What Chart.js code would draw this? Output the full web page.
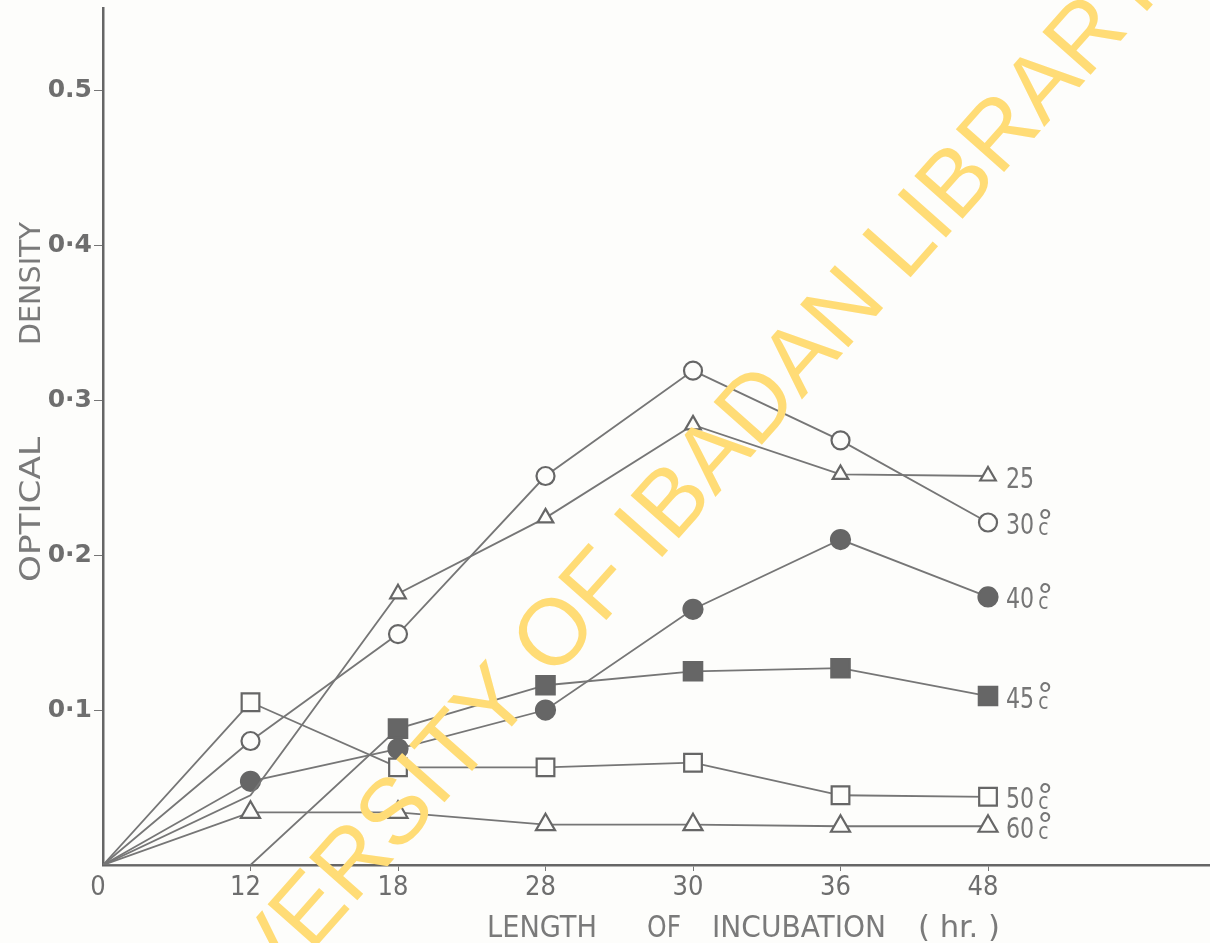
<!DOCTYPE html>
<html>
<head>
<meta charset="utf-8">
<script src="https://cdn.jsdelivr.net/npm/chart.js@4.4.1/dist/chart.umd.min.js"></script>
<style>
  html, body { margin: 0; padding: 0; background: #fdfdfb; }
  canvas { display: block; }
</style>
</head>
<body>
<canvas id="odChart" width="1210" height="943"></canvas>
<script>
// incubation times (hr), spaced evenly along the axis as on the sheet
const hours = ['0', '12', '18', '28', '30', '36', '48'];
const yTickLabels = ['', '0·1', '0·2', '0·3', '0·4', '0.5'];

// optical density per temperature
const od25 = [0, 0.045, 0.175, 0.224, 0.284, 0.252, 0.251];
const od30 = [0, 0.080, 0.149, 0.251, 0.319, 0.274, 0.221];
const od40 = [0, 0.054, 0.075, 0.100, 0.165, 0.210, 0.173];
const od45 = [0, 0, 0.088, 0.116, 0.125, 0.127, 0.109];
const od50 = [0, 0.105, 0.063, 0.063, 0.066, 0.045, 0.044];
const od60 = [0, 0.034, 0.034, 0.026, 0.026, 0.025, 0.025];

const seriesNames = ['25', '30°c', '40°c', '45°c', '50°c', '60°c'];

const INK = '#767676';
const DARK = '#666666';
const PAPER = '#fdfdfb';
const NARROW = '"Liberation Sans Narrow", "DejaVu Sans Condensed", "DejaVu Sans", sans-serif';
const STAMP = 'UNIVERSITY OF IBADAN LIBRARY';

function pts(values) {
  return values.map((v, i) => ({ x: i, y: v }));
}

// no marker at the origin (and where a curve just leaves the axis)
function radii(r, hidden) {
  return hours.map((_, i) => (hidden.includes(i) ? 0 : r));
}

function series(name, values, style, r, filled, hidden) {
  return {
    label: name,
    data: pts(values),
    borderColor: INK,
    borderWidth: 1.8,
    pointStyle: style,
    pointRadius: radii(r, hidden),
    pointBorderWidth: 2.2,
    pointBorderColor: DARK,
    pointBackgroundColor: filled ? DARK : PAPER,
    tension: 0
  };
}

const datasets = [
  series(seriesNames[0], od25, 'triangle', 9, false, [0, 1]),
  series(seriesNames[1], od30, 'circle', 9, false, [0]),
  series(seriesNames[2], od40, 'circle', 9.5, true, [0]),
  series(seriesNames[3], od45, 'rect', 13, true, [0, 1]),
  series(seriesNames[4], od50, 'rect', 12.5, false, [0]),
  series(seriesNames[5], od60, 'triangle', 11, false, [0])
];

// draw text with its inked box centred vertically on cy
function textAt(ctx, text, x, cy, sx) {
  const m = ctx.measureText(text);
  const base = cy + (m.actualBoundingBoxAscent - m.actualBoundingBoxDescent) / 2;
  ctx.save();
  ctx.translate(x, base);
  ctx.scale(sx || 1, 1);
  ctx.fillText(text, 0, 0);
  ctx.restore();
  return m.width * (sx || 1);
}

// "40°c" style labels at the right-hand end of each curve
const endLabels = {
  id: 'endLabels',
  afterDatasetsDraw(chart) {
    const ctx = chart.ctx;
    ctx.save();
    ctx.fillStyle = INK;
    ctx.textAlign = 'left';
    ctx.textBaseline = 'alphabetic';
    chart.data.datasets.forEach((ds, i) => {
      const meta = chart.getDatasetMeta(i);
      const last = meta.data[meta.data.length - 1];
      const m = ds.label.match(/^(\d+)(.*)$/);
      let x = last.x + 18;
      const y = last.y + 1;
      ctx.font = '29px ' + NARROW;
      x += textAt(ctx, m[1], x, y, 0.85) + 3;
      if (m[2]) {
        ctx.font = '32px "DejaVu Sans", sans-serif';
        textAt(ctx, m[2][0], x, y - 10, 1);
        ctx.font = '23px ' + NARROW;
        textAt(ctx, m[2].slice(1), x + 1, y + 5, 0.9);
      }
    });
    ctx.restore();
  }
};

// fit a word between two x positions
function fitWord(ctx, text, x0, x1, y) {
  const w = ctx.measureText(text).width;
  ctx.save();
  ctx.translate(x0, y);
  ctx.scale((x1 - x0) / w, 1);
  ctx.fillText(text, 0, 0);
  ctx.restore();
}

// library stamp: laid out so that the 'S' of UNIVERSITY and the last 'R'
// of LIBRARY land on the two given centres
function drawStamp(ctx, from, to) {
  ctx.save();
  ctx.font = '100px "Liberation Sans", Arial, sans-serif';
  const w = s => ctx.measureText(s).width;
  const sMid = w('UNIVER') + w('S') / 2;
  const rMid = w('UNIVERSITY OF IBADAN LIBRA') + w('R') / 2;
  const dx = to[0] - from[0], dy = to[1] - from[1];
  const k = Math.hypot(dx, dy) / (rMid - sMid);
  const capH = ctx.measureText('S').actualBoundingBoxAscent;
  ctx.translate(from[0], from[1]);
  ctx.rotate(Math.atan2(dy, dx));
  ctx.scale(k, k);
  ctx.fillStyle = '#ffdc76';
  ctx.textAlign = 'left';
  ctx.textBaseline = 'alphabetic';
  ctx.fillText(STAMP, -sMid, capH / 2);
  ctx.restore();
}

const titlesAndStamp = {
  id: 'titlesAndStamp',
  afterDraw(chart) {
    const ctx = chart.ctx;
    ctx.save();
    ctx.fillStyle = '#7a7a7a';
    ctx.textAlign = 'left';
    ctx.textBaseline = 'alphabetic';
    ctx.font = '30px ' + NARROW;
    [['LENGTH', 487, 597], ['OF', 647, 681], ['INCUBATION', 712, 886], ['( hr. )', 918, 1000]]
      .forEach(([t, a, b]) => fitWord(ctx, t, a, b, 937));

    ctx.translate(40, 0);
    ctx.rotate(-Math.PI / 2);
    ctx.font = '28px ' + NARROW;
    [['OPTICAL', -582, -437], ['DENSITY', -345, -222]]
      .forEach(([t, a, b]) => fitWord(ctx, t, a, b, 0));
    ctx.restore();

    drawStamp(ctx, [393, 810], [1083, 33]);
  }
};

new Chart(document.getElementById('odChart'), {
  type: 'line',
  data: { datasets },
  options: {
    responsive: false,
    devicePixelRatio: 1,
    animation: false,
    layout: { autoPadding: false, padding: { top: 8, right: 0, left: 0, bottom: 0 } },
    plugins: {
      legend: { display: false },
      tooltip: { enabled: false }
    },
    scales: {
      x: {
        type: 'linear',
        min: 0,
        max: 7.505,
        border: { color: DARK, width: 2.5 },
        grid: {
          drawOnChartArea: false,
          tickLength: 6,
          color: c => (c.tick && c.tick.value >= 1 && c.tick.value <= 6 ? INK : 'transparent')
        },
        ticks: {
          stepSize: 1,
          autoSkip: false,
          maxRotation: 0,
          padding: 1,
          labelOffset: -5,
          color: '#6e6e6e',
          font: { family: NARROW, size: 27 },
          callback: v => hours[v] ?? ''
        },
        afterFit: s => {
          s.height = 78;
          s.paddingLeft = 0;
          s.paddingRight = 0;
        }
      },
      y: {
        min: 0,
        max: 0.553,
        border: { color: DARK, width: 2.5 },
        grid: {
          drawOnChartArea: false,
          tickLength: 9,
          color: c => {
            if (!c.tick) return 'transparent';
            const k = Math.round(c.tick.value * 10);
            return k > 0 && Math.abs(c.tick.value * 10 - k) < 1e-6 ? INK : 'transparent';
          }
        },
        ticks: {
          stepSize: 0.1,
          padding: 2,
          color: '#6e6e6e',
          font: { family: '"DejaVu Sans", sans-serif', size: 25, weight: 'bold' },
          callback: v => {
            const k = Math.round(v * 10);
            return Math.abs(v * 10 - k) < 1e-6 ? (yTickLabels[k] ?? '') : '';
          }
        },
        afterFit: s => {
          s.width = 103;
          s.paddingTop = 0;
          s.paddingBottom = 0;
        }
      }
    }
  },
  plugins: [endLabels, titlesAndStamp]
});
</script>
</body>
</html>
